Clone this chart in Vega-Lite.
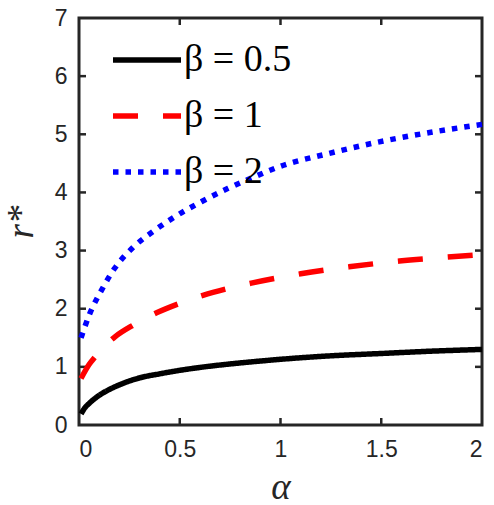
{
  "$schema": "https://vega.github.io/schema/vega-lite/v6.json",
  "width": 403,
  "height": 407,
  "autosize": "none",
  "padding": {"left": 79, "top": 18, "right": 12, "bottom": 80},
  "background": "white",
  "config": {
    "view": {"stroke": null},
    "axis": {
      "grid": false,
      "domain": false,
      "ticks": false,
      "labelFont": "Liberation Sans",
      "labelFontSize": 23,
      "labelColor": "#262626",
      "titleFont": "Liberation Serif",
      "titleFontStyle": "italic",
      "titleFontWeight": "normal",
      "titleFontSize": 37,
      "titleColor": "#262626"
    }
  },
  "layer": [
    {
      "data": {"values": [{}]},
      "mark": {"type": "rect", "fill": null, "stroke": "#262626", "strokeWidth": 3},
      "encoding": {
        "x": {"datum": 0, "type": "quantitative", "axis": null},
        "x2": {"datum": 2},
        "y": {"datum": 0, "type": "quantitative", "axis": null},
        "y2": {"datum": 7}
      }
    },
    {
      "data": {"values": [{"alpha": 0.5}, {"alpha": 1}, {"alpha": 1.5}]},
      "mark": {"type": "tick", "orient": "vertical", "color": "#262626", "size": 7, "thickness": 2.5, "yOffset": -3.5, "opacity": 1},
      "encoding": {
        "x": {"field": "alpha", "type": "quantitative", "axis": null},
        "y": {"datum": 0, "type": "quantitative", "axis": null}
      }
    },
    {
      "data": {"values": [{"alpha": 0.5}, {"alpha": 1}, {"alpha": 1.5}]},
      "mark": {"type": "tick", "orient": "vertical", "color": "#262626", "size": 7, "thickness": 2.5, "yOffset": 3.5, "opacity": 1},
      "encoding": {
        "x": {"field": "alpha", "type": "quantitative", "axis": null},
        "y": {"datum": 7, "type": "quantitative", "axis": null}
      }
    },
    {
      "data": {"values": [{"r": 1}, {"r": 2}, {"r": 3}, {"r": 4}, {"r": 5}, {"r": 6}]},
      "mark": {"type": "tick", "orient": "horizontal", "color": "#262626", "size": 7, "thickness": 2.5, "xOffset": 3.5, "opacity": 1},
      "encoding": {
        "x": {"datum": 0, "type": "quantitative", "axis": null},
        "y": {"field": "r", "type": "quantitative", "axis": null}
      }
    },
    {
      "data": {"values": [{"r": 1}, {"r": 2}, {"r": 3}, {"r": 4}, {"r": 5}, {"r": 6}]},
      "mark": {"type": "tick", "orient": "horizontal", "color": "#262626", "size": 7, "thickness": 2.5, "xOffset": -3.5, "opacity": 1},
      "encoding": {
        "x": {"datum": 2, "type": "quantitative", "axis": null},
        "y": {"field": "r", "type": "quantitative", "axis": null}
      }
    },
    {
      "data": {
        "values": [
          {"alpha": 0.01, "r": 0.19, "beta": "β = 0.5"},
          {"alpha": 0.03, "r": 0.30, "beta": "β = 0.5"},
          {"alpha": 0.05, "r": 0.37, "beta": "β = 0.5"},
          {"alpha": 0.1, "r": 0.51, "beta": "β = 0.5"},
          {"alpha": 0.15, "r": 0.61, "beta": "β = 0.5"},
          {"alpha": 0.2, "r": 0.69, "beta": "β = 0.5"},
          {"alpha": 0.3, "r": 0.81, "beta": "β = 0.5"},
          {"alpha": 0.4, "r": 0.88, "beta": "β = 0.5"},
          {"alpha": 0.5, "r": 0.94, "beta": "β = 0.5"},
          {"alpha": 0.6, "r": 0.99, "beta": "β = 0.5"},
          {"alpha": 0.75, "r": 1.05, "beta": "β = 0.5"},
          {"alpha": 0.9, "r": 1.10, "beta": "β = 0.5"},
          {"alpha": 1.0, "r": 1.13, "beta": "β = 0.5"},
          {"alpha": 1.25, "r": 1.19, "beta": "β = 0.5"},
          {"alpha": 1.5, "r": 1.23, "beta": "β = 0.5"},
          {"alpha": 1.75, "r": 1.27, "beta": "β = 0.5"},
          {"alpha": 2.0, "r": 1.30, "beta": "β = 0.5"},
          {"alpha": 0.01, "r": 0.80, "beta": "β = 1"},
          {"alpha": 0.05, "r": 1.04, "beta": "β = 1"},
          {"alpha": 0.08, "r": 1.17, "beta": "β = 1"},
          {"alpha": 0.12, "r": 1.33, "beta": "β = 1"},
          {"alpha": 0.18, "r": 1.52, "beta": "β = 1"},
          {"alpha": 0.27, "r": 1.72, "beta": "β = 1"},
          {"alpha": 0.385, "r": 1.93, "beta": "β = 1"},
          {"alpha": 0.49, "r": 2.08, "beta": "β = 1"},
          {"alpha": 0.615, "r": 2.23, "beta": "β = 1"},
          {"alpha": 0.73, "r": 2.34, "beta": "β = 1"},
          {"alpha": 0.855, "r": 2.44, "beta": "β = 1"},
          {"alpha": 0.97, "r": 2.52, "beta": "β = 1"},
          {"alpha": 1.1, "r": 2.60, "beta": "β = 1"},
          {"alpha": 1.34, "r": 2.72, "beta": "β = 1"},
          {"alpha": 1.59, "r": 2.82, "beta": "β = 1"},
          {"alpha": 1.8, "r": 2.88, "beta": "β = 1"},
          {"alpha": 2.0, "r": 2.93, "beta": "β = 1"},
          {"alpha": 0.01, "r": 1.50, "beta": "β = 2"},
          {"alpha": 0.054, "r": 1.92, "beta": "β = 2"},
          {"alpha": 0.112, "r": 2.32, "beta": "β = 2"},
          {"alpha": 0.178, "r": 2.70, "beta": "β = 2"},
          {"alpha": 0.27, "r": 3.06, "beta": "β = 2"},
          {"alpha": 0.368, "r": 3.33, "beta": "β = 2"},
          {"alpha": 0.475, "r": 3.58, "beta": "β = 2"},
          {"alpha": 0.607, "r": 3.84, "beta": "β = 2"},
          {"alpha": 0.74, "r": 4.07, "beta": "β = 2"},
          {"alpha": 0.871, "r": 4.27, "beta": "β = 2"},
          {"alpha": 1.0, "r": 4.45, "beta": "β = 2"},
          {"alpha": 1.24, "r": 4.67, "beta": "β = 2"},
          {"alpha": 1.49, "r": 4.87, "beta": "β = 2"},
          {"alpha": 1.74, "r": 5.03, "beta": "β = 2"},
          {"alpha": 2.0, "r": 5.17, "beta": "β = 2"}
        ]
      },
      "mark": {"type": "line", "strokeWidth": 5.5, "interpolate": "monotone"},
      "encoding": {
        "x": {
          "field": "alpha", "type": "quantitative",
          "scale": {"domain": [0, 2], "nice": false, "zero": false},
          "axis": {"orient": "bottom", "values": [0, 0.5, 1, 1.5, 2], "format": "~g", "title": "α", "labelPadding": 13, "titlePadding": 8}
        },
        "y": {
          "field": "r", "type": "quantitative",
          "scale": {"domain": [0, 7], "nice": false, "zero": false},
          "axis": {"orient": "left", "values": [0, 1, 2, 3, 4, 5, 6, 7], "format": "~g", "title": "r*", "labelPadding": 12, "titlePadding": 14}
        },
        "color": {
          "field": "beta", "type": "nominal",
          "sort": ["β = 0.5", "β = 1", "β = 2"],
          "scale": {"domain": ["β = 0.5", "β = 1", "β = 2"], "range": ["#000000", "#ff0000", "#0000ff"]},
          "legend": {
            "title": null,
            "orient": "none",
            "legendX": 31,
            "legendY": 5,
            "padding": 0,
            "symbolType": "stroke",
            "symbolSize": 4624,
            "symbolStrokeWidth": 5.5,
            "labelFont": "Liberation Serif",
            "labelFontSize": 38,
            "labelColor": "#000000",
            "labelOffset": 0,
            "rowPadding": 0,
            "labelLimit": 300
          }
        },
        "strokeDash": {
          "field": "beta", "type": "nominal",
          "sort": ["β = 0.5", "β = 1", "β = 2"],
          "scale": {"domain": ["β = 0.5", "β = 1", "β = 2"], "range": [[1, 0], [25, 25], [5.5, 7]]},
          "legend": null
        }
      }
    }
  ],
  "resolve": {"axis": {"x": "independent", "y": "independent"}}
}
